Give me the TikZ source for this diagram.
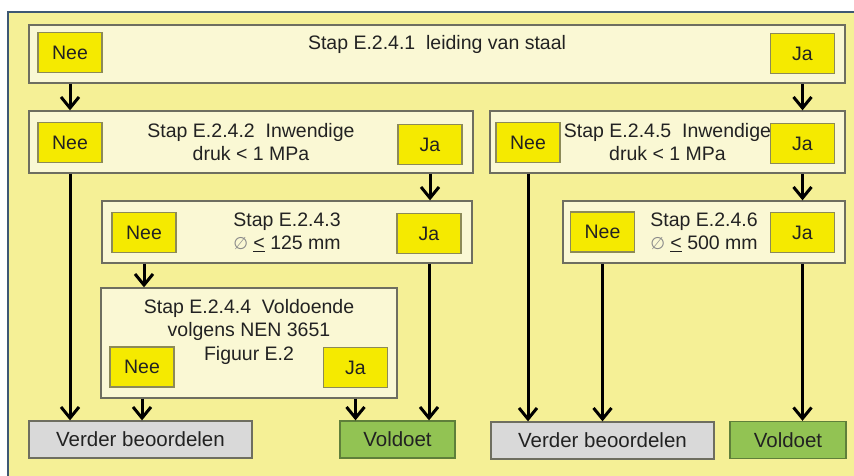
\documentclass[tikz,border=0pt]{standalone}
\usepackage{fontspec}
\setmainfont{Liberation Sans}
\newfontfamily\glyphfont{DejaVu Sans}
\usetikzlibrary{arrows.meta}

\definecolor{frameyellow}{HTML}{F5F096}
\definecolor{frameline}{HTML}{3E5873}
\definecolor{boxcream}{HTML}{FAF8D4}
\definecolor{boxline}{HTML}{6E6E60}
\definecolor{answeryellow}{HTML}{F5EA00}
\definecolor{answerline}{HTML}{8C8A58}
\definecolor{resultgray}{HTML}{D9D9D9}
\definecolor{resultgreen}{HTML}{92C353}
\definecolor{greenline}{HTML}{5F7F3A}
\definecolor{textdark}{HTML}{222222}
\definecolor{symbolgray}{HTML}{8A8A8A}

\newcommand\stepfont{\fontsize{19.5}{23.5}\selectfont}
\newcommand\resultfont{\fontsize{20.5}{24}\selectfont}
\newcommand\diam{{\color{symbolgray}\glyphfont\fontsize{17}{20}\selectfont ∅}}

\begin{document}
\begin{tikzpicture}[x=1pt, y=-1pt,
    stepbox/.style={rectangle, draw=boxline, fill=boxcream, line width=1.3pt, align=center, text=textdark, font=\stepfont},
    steptext/.style={align=center, text=textdark, font=\stepfont, inner sep=0pt},
    answer/.style={rectangle, draw=answerline, fill=answeryellow, line width=1.3pt, minimum width=64pt, minimum height=40pt, text=textdark, font=\stepfont},
    result/.style={rectangle, draw=boxline, line width=1.3pt, minimum height=37pt, text=textdark, font=\resultfont},
    arrow/.style={-{Straight Barb[length=11pt,width=18pt]}, line width=3pt}
]
    \clip (0,0) rectangle (854,475);
    \useasboundingbox (0,0) rectangle (854,475);
    % Frame
    \fill[white] (0,0) rectangle (854,475);
    \draw[frameline, fill=frameyellow, line width=2pt] (8,12) rectangle (880,500);

    % Steps
    \node[stepbox, minimum width=816pt, minimum height=58pt] (stap1) at (437,54) {};
    \node[steptext] (tekst1) at (437,44) {Stap E.2.4.1~~leiding van staal};
    \node[stepbox, minimum width=444pt, minimum height=62pt] (stap2) at (251,142)
        {Stap E.2.4.2~~Inwendige\\druk < 1 MPa};
    \node[stepbox, minimum width=355pt, minimum height=62pt] (stap5) at (667.5,142)
        {Stap E.2.4.5~~Inwendige\\druk < 1 MPa};
    \node[stepbox, minimum width=370pt, minimum height=62pt] (stap3) at (287,232)
        {Stap E.2.4.3\\\diam~\underline{<}~125 mm};
    \node[stepbox, minimum width=282pt, minimum height=62pt] (stap6) at (704,232)
        {Stap E.2.4.6\\\diam~\underline{<}~500 mm};
    \node[stepbox, minimum width=296pt, minimum height=110pt] (stap4) at (249,343) {};
    \node[steptext] (tekst4) at (249,331.5) {Stap E.2.4.4~~Voldoende\\volgens NEN 3651\\Figuur E.2};

    % Answers
    \node[answer] (nee1) at (70,52.5) {Nee};
    \node[answer] (ja1) at (802.5,53.5) {Ja};
    \node[answer] (nee2) at (70,142.5) {Nee};
    \node[answer] (ja2) at (430,144.5) {Ja};
    \node[answer] (nee5) at (528,142.5) {Nee};
    \node[answer] (ja5) at (802.5,143.5) {Ja};
    \node[answer] (nee3) at (144,232.5) {Nee};
    \node[answer] (ja3) at (429,233.5) {Ja};
    \node[answer] (nee6) at (602.5,232) {Nee};
    \node[answer] (ja6) at (802.5,232.5) {Ja};
    \node[answer] (nee4) at (142,367) {Nee};
    \node[answer] (ja4) at (355.5,367.5) {Ja};

    % Results
    \node[result, fill=resultgray, minimum width=223pt] (verder1) at (140.5,439.5) {Verder beoordelen};
    \node[result, fill=resultgreen, draw=greenline, minimum width=115pt] (voldoet1) at (397.5,439.5) {Voldoet};
    \node[result, fill=resultgray, minimum width=223pt] (verder2) at (602.5,440.5) {Verder beoordelen};
    \node[result, fill=resultgreen, draw=greenline, minimum width=116pt] (voldoet2) at (788,440) {Voldoet};

    % Connections
    \draw[arrow] (nee1 |- stap1.south) -- (nee1 |- stap2.north);
    \draw[arrow] (ja1 |- stap1.south) -- (ja1 |- stap5.north);
    \draw[arrow] (nee2 |- stap2.south) -- (nee2 |- verder1.north);
    \draw[arrow] (ja2 |- stap2.south) -- (ja2 |- stap3.north);
    \draw[arrow] (nee3 |- stap3.south) -- (nee3 |- stap4.north);
    \draw[arrow] (ja3 |- stap3.south) -- (ja3 |- voldoet1.north);
    \draw[arrow] (nee4 |- stap4.south) -- (nee4 |- verder1.north);
    \draw[arrow] (ja4 |- stap4.south) -- (ja4 |- voldoet1.north);
    \draw[arrow] (nee5 |- stap5.south) -- (nee5 |- verder2.north);
    \draw[arrow] (ja5 |- stap5.south) -- (ja5 |- stap6.north);
    \draw[arrow] (nee6 |- stap6.south) -- (nee6 |- verder2.north);
    \draw[arrow] (ja6 |- stap6.south) -- (ja6 |- voldoet2.north);
\end{tikzpicture}
\end{document}
